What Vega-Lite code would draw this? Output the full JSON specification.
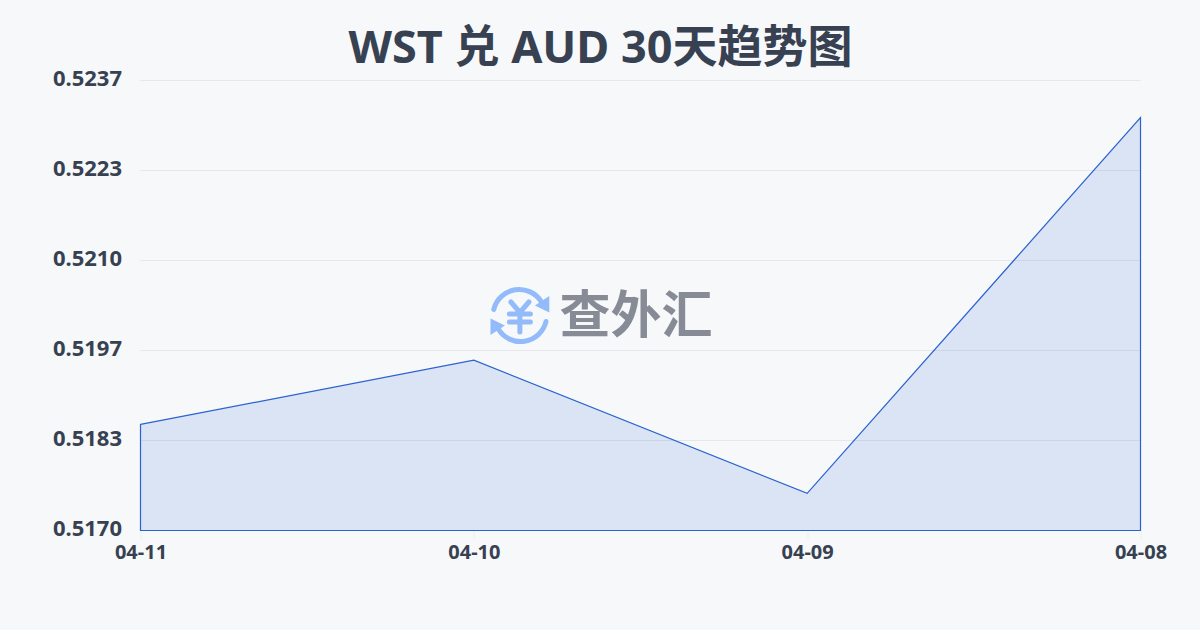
{
  "$schema": "https://vega.github.io/schema/vega-lite/v6.json",
  "width": 1000,
  "height": 450,
  "autosize": "none",
  "padding": { "left": 140.5, "top": 80.5, "right": 59.5, "bottom": 99.5 },
  "background": "#f6f8fa",
  "title": {
    "text": "WST 兑 AUD 30天趋势图",
    "font": "Noto Sans, Noto Sans CJK SC",
    "fontSize": 45,
    "fontWeight": "bold",
    "color": "#374151",
    "anchor": "middle",
    "dx": -40,
    "offset": -4
  },
  "config": {
    "view": { "stroke": null },
    "axis": { "labelFont": "Noto Sans", "labelFontWeight": "bold", "labelColor": "#374151" }
  },
  "datasets": {
    "rates": [
      { "date": "2025-04-11", "rate": 0.51857 },
      { "date": "2025-04-10", "rate": 0.51952 },
      { "date": "2025-04-09", "rate": 0.51755 },
      { "date": "2025-04-08", "rate": 0.52311 }
    ],
    "ticks": [
      { "rate": 0.517 },
      { "rate": 0.518332 },
      { "rate": 0.519664 },
      { "rate": 0.520996 },
      { "rate": 0.522328 },
      { "rate": 0.52366 }
    ],
    "logo": [{ "date": "2025-04-09T20:41:00Z", "rate": 0.520182 }],
    "brand": [{ "date": "2025-04-09T12:19:00Z", "rate": 0.520138, "name": "查外汇" }]
  },
  "layer": [
    {
      "data": { "name": "ticks" },
      "mark": { "type": "rule", "color": "#e5e7eb", "strokeWidth": 1 },
      "encoding": {
        "y": { "field": "rate", "type": "quantitative" }
      }
    },
    {
      "data": { "name": "rates" },
      "mark": { "type": "area", "fill": "#3b6fd4", "fillOpacity": 0.15, "stroke": "#2a62cf", "strokeWidth": 1.2 },
      "encoding": {
        "x": {
          "field": "date",
          "type": "temporal",
          "title": null,
          "scale": { "type": "utc", "domain": ["2025-04-08", "2025-04-11"], "reverse": true },
          "axis": {
            "values": [
              { "year": 2025, "month": 4, "date": 11, "utc": true },
              { "year": 2025, "month": 4, "date": 10, "utc": true },
              { "year": 2025, "month": 4, "date": 9, "utc": true },
              { "year": 2025, "month": 4, "date": 8, "utc": true }
            ],
            "labelExpr": "utcFormat(datum.value, '%m-%d')",
            "labelFontSize": 20,
            "labelPadding": 4,
            "labelFlush": false,
            "grid": false,
            "domain": false,
            "tickColor": "#eeeeee",
            "tickSize": 8
          }
        },
        "y": {
          "field": "rate",
          "type": "quantitative",
          "title": null,
          "scale": { "domain": [0.517, 0.52366], "nice": false, "zero": false },
          "axis": {
            "values": [0.517, 0.518332, 0.519664, 0.520996, 0.522328, 0.52366],
            "format": ".4f",
            "labelFontSize": 22,
            "labelPadding": 19,
            "labelOffset": -2,
            "domain": false,
            "ticks": false,
            "grid": false
          }
        },
        "y2": { "datum": 0.517 }
      }
    },
    {
      "data": { "name": "logo" },
      "mark": {
        "type": "point",
        "shape": "M-.87,-.2 A.87,.87 0 0 1 .72,-.45 M.87,.2 A.87,.87 0 0 1 -.72,.45 M-.3,-.45 L0,-.1 L.3,-.45 M-.35,-.05 H.35 M-.35,.22 H.35 M0,-.1 V.55",
        "size": 3600,
        "filled": false,
        "stroke": "#93bbfa",
        "strokeWidth": 5,
        "strokeCap": "round",
        "opacity": 1
      },
      "encoding": {
        "x": { "field": "date", "type": "temporal" },
        "y": { "field": "rate", "type": "quantitative" }
      }
    },
    {
      "data": { "name": "logo" },
      "mark": {
        "type": "point",
        "shape": "M.98,-.65 L.98,-.1 L.5,-.33 Z M-.98,.1 L-.98,.65 L-.5,.33 Z",
        "size": 3600,
        "filled": true,
        "fill": "#93bbfa",
        "opacity": 1
      },
      "encoding": {
        "x": { "field": "date", "type": "temporal" },
        "y": { "field": "rate", "type": "quantitative" }
      }
    },
    {
      "data": { "name": "brand" },
      "mark": {
        "type": "text",
        "font": "Noto Sans CJK SC",
        "fontSize": 51,
        "fontWeight": "bold",
        "fill": "#868b95",
        "align": "center",
        "baseline": "middle"
      },
      "encoding": {
        "x": { "field": "date", "type": "temporal" },
        "y": { "field": "rate", "type": "quantitative" },
        "text": { "field": "name" }
      }
    }
  ]
}
